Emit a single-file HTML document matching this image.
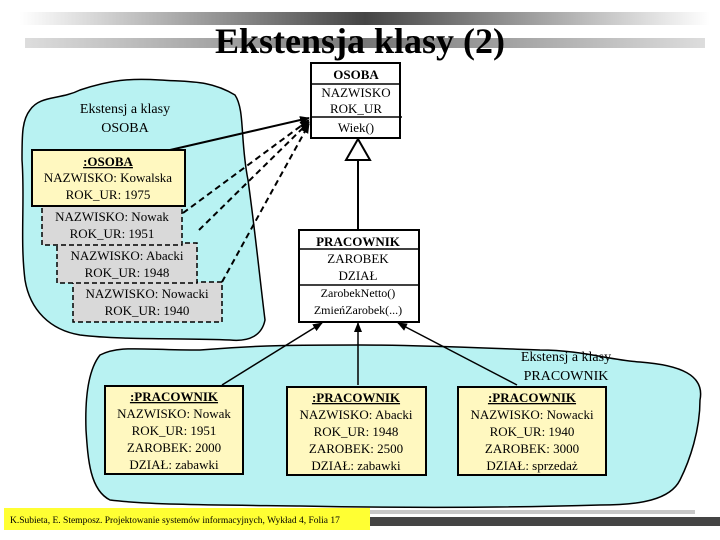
<!DOCTYPE html>
<html><head><meta charset="utf-8"><style>
html,body{margin:0;padding:0;background:#fff;}
svg{display:block;}
text{font-family:"Liberation Serif",serif;}
</style></head><body>
<svg width="720" height="540" viewBox="0 0 720 540" xmlns="http://www.w3.org/2000/svg">
<defs>
<linearGradient id="g1" x1="0" x2="1" y1="0" y2="0">
<stop offset="0" stop-color="#fff"/><stop offset="0.5" stop-color="#444"/><stop offset="1" stop-color="#fff"/>
</linearGradient>
<linearGradient id="g2" x1="0" x2="1" y1="0" y2="0">
<stop offset="0" stop-color="#ddd"/><stop offset="0.5" stop-color="#777"/><stop offset="1" stop-color="#ddd"/>
</linearGradient>
<marker id="ah" markerWidth="10" markerHeight="10" refX="9" refY="5" orient="auto" markerUnits="userSpaceOnUse">
<path d="M0,1 L10,5 L0,9 z" fill="#000"/></marker>
</defs>
<rect x="20" y="12" width="690" height="13" fill="url(#g1)"/>
<rect x="25" y="38" width="680" height="10" fill="url(#g2)"/>
<text x="360" y="53" text-anchor="middle" font-size="36" font-weight="bold">Ekstensja klasy (2)</text>

<path d="M30,110 C40,95 60,100 80,90 C110,80 130,78 160,80 C190,82 210,80 235,95 C245,110 240,140 248,180 C255,230 260,280 265,320 C262,335 250,342 230,340 C180,338 120,340 80,335 C50,330 30,310 25,280 C20,240 25,200 22,160 C22,135 22,120 30,110 z" fill="#b8f2f2" stroke="#000" stroke-width="1.5"/>
<path d="M100,355 C120,345 140,350 200,350 C260,345 300,345 360,345 C420,345 480,348 540,350 C580,350 610,360 640,362 C680,365 705,375 700,400 C700,430 690,460 680,480 C670,500 640,505 600,505 C500,508 400,508 300,506 C220,505 150,505 110,500 C90,490 88,460 86,430 C85,400 88,370 100,355 z" fill="#b8f2f2" stroke="#000" stroke-width="1.5"/>

<text x="125" y="113" text-anchor="middle" font-size="14">Ekstensj a klasy</text>
<text x="125" y="132" text-anchor="middle" font-size="14">OSOBA</text>

<rect x="73" y="282" width="149" height="40" fill="#d9d9d9" stroke="#000" stroke-width="1.5" stroke-dasharray="5,3"/>
<text x="147" y="298" text-anchor="middle" font-size="13">NAZWISKO: Nowacki</text>
<text x="147" y="315" text-anchor="middle" font-size="13">ROK_UR: 1940</text>
<rect x="57" y="243" width="140" height="40" fill="#d9d9d9" stroke="#000" stroke-width="1.5" stroke-dasharray="5,3"/>
<text x="127" y="260" text-anchor="middle" font-size="13">NAZWISKO: Abacki</text>
<text x="127" y="277" text-anchor="middle" font-size="13">ROK_UR: 1948</text>
<rect x="42" y="205" width="140" height="40" fill="#d9d9d9" stroke="#000" stroke-width="1.5" stroke-dasharray="5,3"/>
<text x="112" y="221" text-anchor="middle" font-size="13">NAZWISKO: Nowak</text>
<text x="112" y="238" text-anchor="middle" font-size="13">ROK_UR: 1951</text>
<rect x="32" y="150" width="153" height="56" fill="#fff8c0" stroke="#000" stroke-width="2"/>
<text x="108" y="166" text-anchor="middle" font-size="13" font-weight="bold" text-decoration="underline">:OSOBA</text>
<text x="108" y="182" text-anchor="middle" font-size="13">NAZWISKO: Kowalska</text>
<text x="108" y="199" text-anchor="middle" font-size="13">ROK_UR: 1975</text>

<line x1="170" y1="150" x2="309" y2="118" stroke="#000" stroke-width="2" marker-end="url(#ah)"/>
<line x1="183" y1="213" x2="309" y2="120" stroke="#000" stroke-width="2" stroke-dasharray="6,4" marker-end="url(#ah)"/>
<line x1="199" y1="230" x2="309" y2="122" stroke="#000" stroke-width="2" stroke-dasharray="6,4" marker-end="url(#ah)"/>
<line x1="222" y1="282" x2="309" y2="124" stroke="#000" stroke-width="2" stroke-dasharray="6,4" marker-end="url(#ah)"/>

<rect x="311" y="63" width="89" height="75" fill="#fff" stroke="#000" stroke-width="2"/>
<line x1="311" y1="84" x2="400" y2="84" stroke="#000" stroke-width="1.5"/>
<line x1="311" y1="117" x2="402" y2="117" stroke="#000" stroke-width="1.5"/>
<text x="356" y="79" text-anchor="middle" font-size="13" font-weight="bold">OSOBA</text>
<text x="356" y="97" text-anchor="middle" font-size="13">NAZWISKO</text>
<text x="356" y="113" text-anchor="middle" font-size="13">ROK_UR</text>
<text x="356" y="132" text-anchor="middle" font-size="13">Wiek()</text>

<line x1="358" y1="160" x2="358" y2="229" stroke="#000" stroke-width="2"/>
<path d="M358,139 L370,160 L346,160 z" fill="#fff" stroke="#000" stroke-width="2"/>

<rect x="299" y="230" width="120" height="92" fill="#fff" stroke="#000" stroke-width="2"/>
<line x1="299" y1="249" x2="419" y2="249" stroke="#000" stroke-width="1.5"/>
<line x1="299" y1="285" x2="419" y2="285" stroke="#000" stroke-width="1.5"/>
<text x="358" y="246" text-anchor="middle" font-size="13" font-weight="bold">PRACOWNIK</text>
<text x="358" y="263" text-anchor="middle" font-size="13">ZAROBEK</text>
<text x="358" y="280" text-anchor="middle" font-size="13">DZIAŁ</text>
<text x="358" y="297" text-anchor="middle" font-size="12">ZarobekNetto()</text>
<text x="358" y="314" text-anchor="middle" font-size="12">ZmieńZarobek(...)</text>

<line x1="222" y1="385" x2="322" y2="323" stroke="#000" stroke-width="1.5" marker-end="url(#ah)"/>
<line x1="358" y1="385" x2="358" y2="323" stroke="#000" stroke-width="1.5" marker-end="url(#ah)"/>
<line x1="517" y1="385" x2="398" y2="323" stroke="#000" stroke-width="1.5" marker-end="url(#ah)"/>

<text x="566" y="361" text-anchor="middle" font-size="14">Ekstensj a klasy</text>
<text x="566" y="380" text-anchor="middle" font-size="14">PRACOWNIK</text>

<g font-size="13" text-anchor="middle">
<rect x="105" y="386" width="138" height="88" fill="#fff8c0" stroke="#000" stroke-width="2"/>
<text x="174" y="401" font-weight="bold" text-decoration="underline">:PRACOWNIK</text>
<text x="174" y="418">NAZWISKO: Nowak</text>
<text x="174" y="435">ROK_UR: 1951</text>
<text x="174" y="452">ZAROBEK: 2000</text>
<text x="174" y="469">DZIAŁ: zabawki</text>
<rect x="287" y="387" width="139" height="88" fill="#fff8c0" stroke="#000" stroke-width="2"/>
<text x="356" y="402" font-weight="bold" text-decoration="underline">:PRACOWNIK</text>
<text x="356" y="419">NAZWISKO: Abacki</text>
<text x="356" y="436">ROK_UR: 1948</text>
<text x="356" y="453">ZAROBEK: 2500</text>
<text x="356" y="470">DZIAŁ: zabawki</text>
<rect x="458" y="387" width="148" height="88" fill="#fff8c0" stroke="#000" stroke-width="2"/>
<text x="532" y="402" font-weight="bold" text-decoration="underline">:PRACOWNIK</text>
<text x="532" y="419">NAZWISKO: Nowacki</text>
<text x="532" y="436">ROK_UR: 1940</text>
<text x="532" y="453">ZAROBEK: 3000</text>
<text x="532" y="470">DZIAŁ: sprzedaż</text>
</g>

<rect x="370" y="510" width="325" height="4" fill="#c8c8c8"/>
<rect x="370" y="517" width="350" height="9" fill="#444"/>
<rect x="4" y="508" width="366" height="22" fill="#ffff33"/>
<text x="10" y="523" font-size="9.5">K.Subieta, E. Stemposz. Projektowanie systemów informacyjnych, Wykład 4, Folia 17</text>
</svg>
</body></html>
